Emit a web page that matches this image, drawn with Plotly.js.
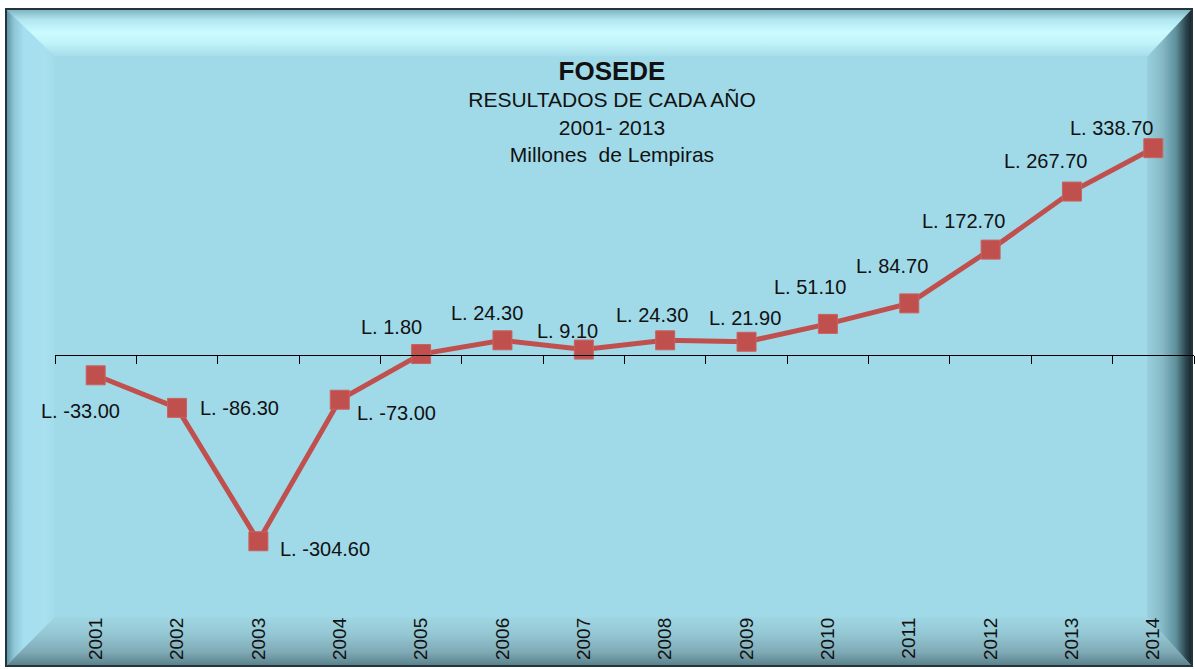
<!DOCTYPE html>
<html>
<head>
<meta charset="utf-8">
<script src="https://cdn.plot.ly/plotly-3.0.1.min.js"></script>
<style>
  html, body { margin: 0; padding: 0; background: #ffffff; }
  #wrap { position: relative; width: 1195px; height: 669px; overflow: hidden; background: #ffffff; }
  .frame { position: absolute; left: 5px; top: 8px; width: 1184px; height: 655px; border: 2px solid #23343b; background: #a0dae9; }
  .bev { position: absolute; left: 0; top: 0; width: 1195px; height: 669px; }
  #top { background: linear-gradient(to bottom, #7fb4c2 0px, #b2e7f2 10px, #c9fbff 22px, #c2f4fa 32px, #a9e0ec 45px, #a1d9e8 47px);
         background-position: 0 10px; background-repeat: no-repeat; background-size: 100% 47px;
         clip-path: polygon(7px 10px, 1191px 10px, 1147px 57px, 55px 57px); }
  #left { background: linear-gradient(to right, #5f96a6 7px, #8ec6d6 14px, #a6dfef 24px, #a8e0f0 45px, #a2dbea 55px);
          clip-path: polygon(7px 10px, 55px 57px, 55px 617px, 7px 665px); }
  #bottom { background: linear-gradient(to bottom, #a0d6e3 617px, #93c6d2 635px, #7faab6 652px, #5b838e 665px);
            clip-path: polygon(7px 665px, 55px 617px, 1147px 617px, 1191px 665px); }
  #right { background: linear-gradient(to right, #99d0dd 1147px, #86bac7 1162px, #5f909c 1176px, #2c454d 1186px, #1b2a30 1191px);
           clip-path: polygon(1147px 57px, 1191px 10px, 1191px 665px, 1147px 617px); }
  #chart { position: absolute; left: 0; top: 0; width: 1195px; height: 669px; }
</style>
</head>
<body>
<div id="wrap">
  <div class="frame"></div>
  <div class="bev" id="top"></div>
  <div class="bev" id="left"></div>
  <div class="bev" id="bottom"></div>
  <div class="bev" id="right"></div>
  <div id="chart"></div>
</div>
<script>
// ---- data ----
const years = ['2001','2002','2003','2004','2005','2006','2007','2008','2009','2010','2011','2012','2013','2014'];
const results = [-33.00, -86.30, -304.60, -73.00, 1.80, 24.30, 9.10, 24.30, 21.90, 51.10, 84.70, 172.70, 267.70, 338.70];
const labelPrefix = 'L. ';
const titleMain = 'FOSEDE';
const titleLines = ['RESULTADOS DE CADA AÑO', '2001- 2013', 'Millones  de Lempiras'];

// ---- label placement (style only: pixel offsets from each point) ----
const labelDx = [-15, 62, 67, 57, -30, -15, -16, -13, -2, -18, -17, -27, -26, -42];
const labelDy = [-36, 0, -8, -13, 27, 27, 19, 25, 24, 37, 37, 29, 31, 20];

const yMin = -422, yMax = 483;
const zeroPos = (0 - yMin) / (yMax - yMin);
const xRange = [-0.5, years.length - 0.5];

const lineColor = 'rgb(192,80,77)';
const fontFam = 'Liberation Sans, Arial, sans-serif';

const trace = {
  type: 'scatter',
  mode: 'lines+markers',
  x: years,
  y: results,
  line: { color: lineColor, width: 5 },
  marker: { symbol: 'square', size: 19, color: lineColor, line: { color: 'rgb(202,98,95)', width: 1 } },
  hoverinfo: 'skip',
  cliponaxis: false
};

const annotations = years.map((yr, i) => ({
  x: i, y: results[i], xref: 'x', yref: 'y',
  text: labelPrefix + results[i].toFixed(2),
  showarrow: false,
  xanchor: 'center', yanchor: 'middle',
  xshift: labelDx[i], yshift: labelDy[i],
  font: { family: fontFam, size: 20, color: '#111111' }
}));

const layout = {
  width: 1195, height: 669,
  margin: { l: 55, r: 1, t: 60, b: 56, pad: 0 },
  paper_bgcolor: 'rgba(0,0,0,0)',
  plot_bgcolor: 'rgba(0,0,0,0)',
  showlegend: false,
  title: {
    text: '<b><span style="font-size:26px">' + titleMain + '</span></b><br>' + titleLines.join('<br>'),
    font: { family: fontFam, size: 21, color: '#111111' },
    xref: 'container', x: 612 / 1195, xanchor: 'center',
    yref: 'container', y: 1 - 80 / 669, yanchor: 'top'
  },
  xaxis: {
    type: 'category',
    categoryorder: 'array', categoryarray: years,
    range: xRange,
    showgrid: false, zeroline: false, showline: false,
    ticks: '', tickangle: -90,
    tickfont: { family: fontFam, size: 19, color: '#111111' },
    fixedrange: true
  },
  xaxis2: {
    type: 'category',
    categoryorder: 'array', categoryarray: years,
    overlaying: 'x',
    range: xRange,
    anchor: 'free', position: zeroPos,
    showgrid: false, zeroline: false,
    showline: true, linecolor: '#000000', linewidth: 1,
    ticks: 'outside', ticklen: 8, tickwidth: 1, tickcolor: '#000000',
    tickson: 'boundaries',
    showticklabels: false,
    fixedrange: true
  },
  yaxis: {
    range: [yMin, yMax],
    visible: false,
    showgrid: false, zeroline: false,
    fixedrange: true
  },
  annotations: annotations
};

const axisTrace = { type: 'scatter', mode: 'markers', marker: { opacity: 0 }, x: years, y: results, xaxis: 'x2', yaxis: 'y', hoverinfo: 'skip' };

Plotly.newPlot('chart', [axisTrace, trace], layout, { displayModeBar: false, staticPlot: true });
</script>
</body>
</html>
